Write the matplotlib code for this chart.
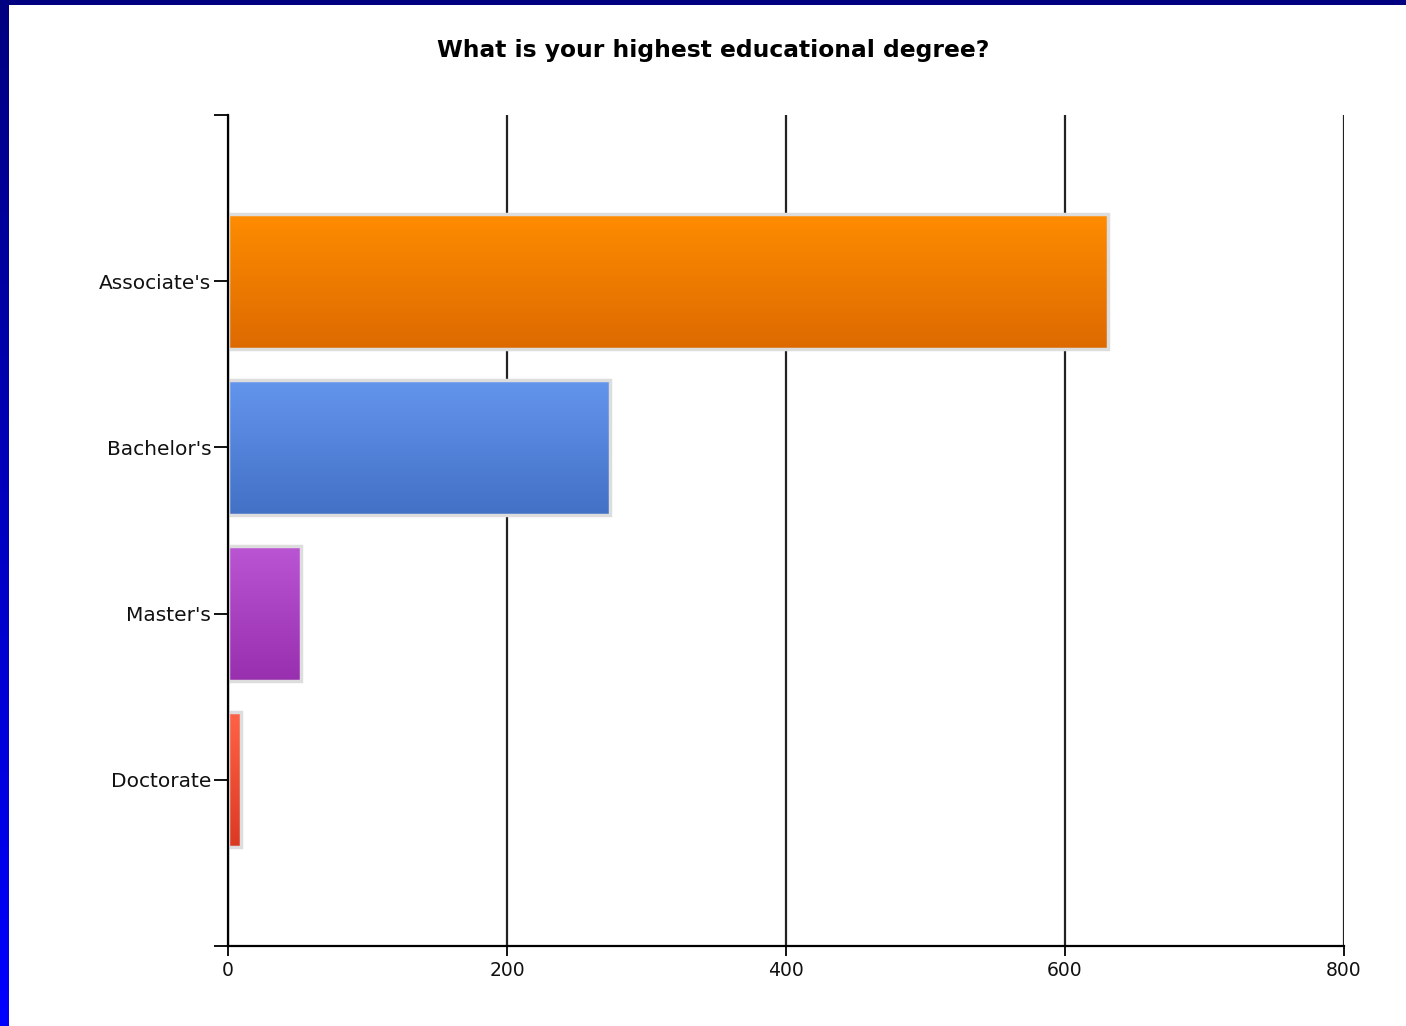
import numpy as np
import matplotlib
matplotlib.use('Agg')
import matplotlib.pyplot as plt

# datos
categorias = ["Associate's", "Bachelor's", "Master's", "Doctorate"]
valores = [631, 274, 52, 9]
color_arriba = ['#FF8C00', '#6495ED', '#BA55D3', '#FF6347']
color_abajo = ['#DC6A00', '#4271C6', '#982FAE', '#DA3A22']
xticks = [0, 200, 400, 600, 800]

fig = plt.figure(figsize=(14.06, 10.26), dpi=100)
fig.patch.set_facecolor('white')

# borde azul de la diapositiva
borde = fig.add_axes([0, 0, 9/1406, 1])
grad = np.linspace(0, 1, 256).reshape(-1, 1)
cmap_borde = matplotlib.colors.LinearSegmentedColormap.from_list('b', ['#000080', '#0000FF'])
borde.imshow(grad, aspect='auto', cmap=cmap_borde, extent=[0, 1, 1, 0])
borde.axis('off')
fig.patches.append(plt.Rectangle((0, 1 - 5/1026), 1, 5/1026, transform=fig.transFigure,
                                 facecolor='#000080', edgecolor='none', zorder=5))

ax = fig.add_axes([228/1406, 1 - 946/1026, 1116/1406, 831/1026])
y = np.arange(len(categorias))

barras = ax.barh(y, valores, height=0.81, facecolor='none', edgecolor='#DDDDDD',
                 linewidth=2.5, zorder=3)
for b, c1, c2 in zip(barras, color_arriba, color_abajo):
    cm = matplotlib.colors.LinearSegmentedColormap.from_list('g', [c1, c2])
    x0, y0 = b.get_x(), b.get_y()
    im = ax.imshow(grad, aspect='auto', cmap=cm, zorder=2,
                   extent=[x0, x0 + b.get_width(), y0 + b.get_height(), y0])
    im.set_clip_path(b)

ax.set_xlim(0, 800)
ax.set_ylim(4, -1)
ax.set_xticks(xticks)
ax.set_xticklabels([str(t) for t in xticks], fontsize=13.5)
ax.set_yticks([-1, 0, 1, 2, 3, 4])
ax.set_yticklabels([''] + categorias + [''], fontsize=14.5)
ax.grid(axis='x', color='#222222', linewidth=1.6, zorder=1)
for s in ['top', 'right']:
    ax.spines[s].set_visible(False)
ax.spines['left'].set_linewidth(1.6)
ax.spines['bottom'].set_linewidth(1.6)
ax.spines['left'].set_zorder(4)
ax.tick_params(axis='y', length=10, width=1.4, pad=2, colors='#111111')
ax.tick_params(axis='x', length=7, width=1.4, pad=4, colors='#111111')

fig.text(0.507, 1 - 50/1026, 'What is your highest educational degree?', ha='center',
         va='center', fontsize=16.8, fontweight='bold')

plt.savefig('out.png', dpi=100)
